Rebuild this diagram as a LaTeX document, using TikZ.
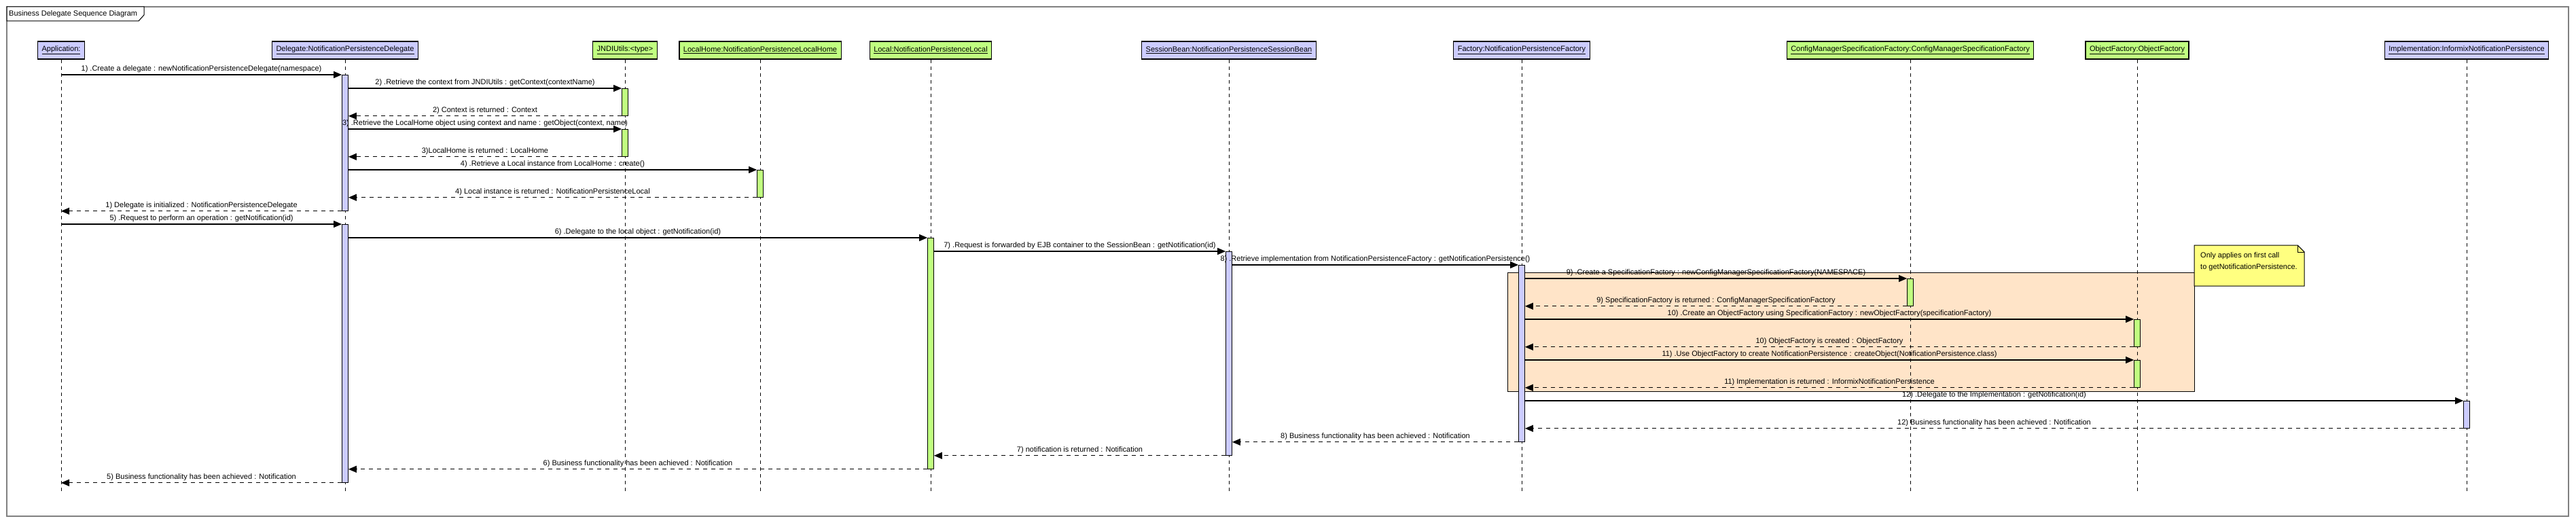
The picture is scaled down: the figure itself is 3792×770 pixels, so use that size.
\documentclass[tikz,border=0pt]{standalone}
\usepackage{fontspec}
\setmainfont{Liberation Sans}
\usetikzlibrary{arrows.meta}
\definecolor{objblue}{RGB}{204,204,255}
\definecolor{objgreen}{RGB}{192,255,128}
\definecolor{fragorange}{RGB}{255,228,200}
\definecolor{noteyellow}{RGB}{255,255,128}
\definecolor{framegray}{RGB}{128,128,128}
\tikzset{
  obj/.style={draw=black, line width=1.2pt, minimum height=26, inner xsep=6, inner ysep=0},
  objb/.style={obj, fill=objblue},
  objg/.style={obj, fill=objgreen},
  act/.style={draw=black, line width=0.8pt, minimum width=9, inner sep=0, anchor=north},
  actb/.style={act, fill=objblue},
  actg/.style={act, fill=objgreen},
  life/.style={line width=0.8pt, dash pattern=on 5pt off 5pt},
  call/.style={line width=1.2pt, -{Triangle[length=12pt,width=10pt]}},
  ret/.style={line width=1.2pt, dash pattern=on 6pt off 6pt, -{Triangle[length=12pt,width=10pt]}},
  lbl/.style={midway, above, inner xsep=0, inner ysep=2, text depth=2.5pt}
}
\begin{document}
\begin{tikzpicture}[x=1pt, y=-1pt, font=\fontsize{11pt}{13pt}\selectfont]
    \useasboundingbox (0,0) rectangle (3792,770);
    \draw [framegray, line width=1.5pt] (10,10) rectangle (3781,760);
    \draw [fill=white, line width=1pt] (10,10) -- (212,10) -- (212,22) -- (204,31) -- (10,31) -- cycle;
    \node [anchor=west, inner sep=0] (T) at (13,20.5) {Business Delegate Sequence Diagram};

    \node [objb] (A) at (90,74) {\underline{Application:}};
    \node [objb] (D) at (508,74) {\underline{Delegate:NotificationPersistenceDelegate}};
    \node [objg] (J) at (920,74) {\underline{JNDIUtils:<type>}};
    \node [objg] (LH) at (1119,74) {\underline{LocalHome:NotificationPersistenceLocalHome}};
    \node [objg] (L) at (1370,74) {\underline{Local:NotificationPersistenceLocal}};
    \node [objb] (S) at (1809,74) {\underline{SessionBean:NotificationPersistenceSessionBean}};
    \node [objb] (F) at (2240,74) {\underline{Factory:NotificationPersistenceFactory}};
    \node [objg] (C) at (2812,74) {\underline{ConfigManagerSpecificationFactory:ConfigManagerSpecificationFactory}};
    \node [objg] (O) at (3146,74) {\underline{ObjectFactory:ObjectFactory}};
    \node [objb] (I) at (3631,74) {\underline{Implementation:InformixNotificationPersistence}};

    \draw [fill=fragorange, line width=1pt] (2219,401) rectangle (3230,576);
    \draw [fill=noteyellow, line width=1pt] (3230,361) -- (3382,361) -- (3392,371) -- (3392,421) -- (3230,421) -- cycle;
    \draw [line width=1pt] (3382,361) -- (3382,371) -- (3392,371);
    \node [anchor=north west, inner sep=0, align=left, font=\fontsize{11pt}{17pt}\selectfont] (N) at (3239,371) {Only applies on first call\\to getNotificationPersistence.};

    \coordinate (BOT) at (0,726);
    \draw [life] (A.south) -- (A.south |- BOT);
    \draw [life] (D.south) -- (D.south |- BOT);
    \draw [life] (J.south) -- (J.south |- BOT);
    \draw [life] (LH.south) -- (LH.south |- BOT);
    \draw [life] (L.south) -- (L.south |- BOT);
    \draw [life] (S.south) -- (S.south |- BOT);
    \draw [life] (F.south) -- (F.south |- BOT);
    \draw [life] (C.south) -- (C.south |- BOT);
    \draw [life] (O.south) -- (O.south |- BOT);
    \draw [life] (I.south) -- (I.south |- BOT);

    \node [actb, minimum height=200] (DA) at (508,110) {};
    \node [actb, minimum height=380] (DB) at (508,330) {};
    \node [actg, minimum height=40] (JA) at (920,130) {};
    \node [actg, minimum height=40] (JB) at (920,190) {};
    \node [actg, minimum height=40] (LHA) at (1119,250) {};
    \node [actg, minimum height=340] (LA) at (1370,350) {};
    \node [actb, minimum height=300] (SA) at (1809,370) {};
    \node [actb, minimum height=260] (FA) at (2240,390) {};
    \node [actg, minimum height=40] (CA) at (2812,410) {};
    \node [actg, minimum height=40] (OA) at (3146,470) {};
    \node [actg, minimum height=40] (OB) at (3146,530) {};
    \node [actb, minimum height=40] (IA) at (3631,590) {};

    \draw [call] (A |- DA.north) -- (DA.north west) node [lbl] {1) .Create a delegate : newNotificationPersistenceDelegate(namespace)};
    \draw [call] (DA.east |- JA.north) -- (JA.north west) node [lbl] {2) .Retrieve the context from JNDIUtils : getContext(contextName)};
    \draw [ret] (JA.south west) -- (DA.east |- JA.south) node [lbl] {2) Context is returned : Context};
    \draw [call] (DA.east |- JB.north) -- (JB.north west) node [lbl] {3) .Retrieve the LocalHome object using context and name : getObject(context, name)};
    \draw [ret] (JB.south west) -- (DA.east |- JB.south) node [lbl] {3)LocalHome is returned : LocalHome};
    \draw [call] (DA.east |- LHA.north) -- (LHA.north west) node [lbl] {4) .Retrieve a Local instance from LocalHome : create()};
    \draw [ret] (LHA.south west) -- (DA.east |- LHA.south) node [lbl] {4) Local instance is returned : NotificationPersistenceLocal};
    \draw [ret] (DA.south west) -- (A |- DA.south) node [lbl] {1) Delegate is initialized : NotificationPersistenceDelegate};
    \draw [call] (A |- DB.north) -- (DB.north west) node [lbl] {5) .Request to perform an operation : getNotification(id)};
    \draw [call] (DB.east |- LA.north) -- (LA.north west) node [lbl] {6) .Delegate to the local object : getNotification(id)};
    \draw [call] (LA.east |- SA.north) -- (SA.north west) node [lbl] {7) .Request is forwarded by EJB container to the SessionBean : getNotification(id)};
    \draw [call] (SA.east |- FA.north) -- (FA.north west) node [lbl] {8) .Retrieve implementation from NotificationPersistenceFactory : getNotificationPersistence()};
    \draw [call] (FA.east |- CA.north) -- (CA.north west) node [lbl] {9) .Create a SpecificationFactory : newConfigManagerSpecificationFactory(NAMESPACE)};
    \draw [ret] (CA.south west) -- (FA.east |- CA.south) node [lbl] {9) SpecificationFactory is returned : ConfigManagerSpecificationFactory};
    \draw [call] (FA.east |- OA.north) -- (OA.north west) node [lbl] {10) .Create an ObjectFactory using SpecificationFactory : newObjectFactory(specificationFactory)};
    \draw [ret] (OA.south west) -- (FA.east |- OA.south) node [lbl] {10) ObjectFactory is created : ObjectFactory};
    \draw [call] (FA.east |- OB.north) -- (OB.north west) node [lbl] {11) .Use ObjectFactory to create NotificationPersistence : createObject(NotificationPersistence.class)};
    \draw [ret] (OB.south west) -- (FA.east |- OB.south) node [lbl] {11) Implementation is returned : InformixNotificationPersistence};
    \draw [call] (FA.east |- IA.north) -- (IA.north west) node [lbl] {12) .Delegate to the Implementation : getNotification(id)};
    \draw [ret] (IA.south west) -- (FA.east |- IA.south) node [lbl] {12) Business functionality has been achieved : Notification};
    \draw [ret] (FA.south west) -- (SA.east |- FA.south) node [lbl] {8) Business functionality has been achieved : Notification};
    \draw [ret] (SA.south west) -- (LA.east |- SA.south) node [lbl] {7) notification is returned : Notification};
    \draw [ret] (LA.south west) -- (DB.east |- LA.south) node [lbl] {6) Business functionality has been achieved : Notification};
    \draw [ret] (DB.south west) -- (A |- DB.south) node [lbl] {5) Business functionality has been achieved : Notification};
\end{tikzpicture}
\end{document}
